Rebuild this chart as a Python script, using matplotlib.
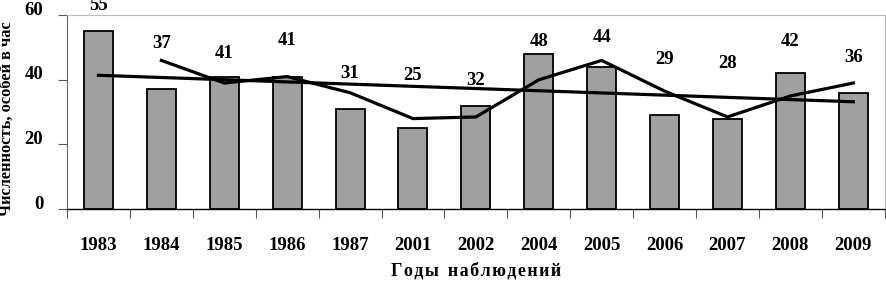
import matplotlib.pyplot as plt
import matplotlib.transforms as mtransforms
import numpy as np

plt.rcParams['font.family'] = ['Liberation Serif', 'DejaVu Serif']
plt.rcParams['font.weight'] = 'bold'

years = ['1983', '1984', '1985', '1986', '1987', '2001', '2002',
         '2004', '2005', '2006', '2007', '2008', '2009']
counts = [55, 37, 41, 41, 31, 25, 32, 48, 44, 29, 28, 42, 36]
# moving average (2 periods), starts at 1984
moving_avg = [46, 39, 41, 36, 28, 28.5, 40, 46, 36.5, 28.5, 35, 39]
# linear trend, value at first and last year
trend = [41.4, 33.2]

# where the value labels sit (data units), as in the original
label_y = [63.0, 51.3, 48.2, 52.3, 42.1, 41.4, 39.9, 51.7, 53.2, 46.4, 45.2, 52.0, 47.0]

fig = plt.figure(figsize=(8.86, 2.81), dpi=100)
ax = fig.add_axes([0.0756, 0.256, 0.923, 0.690])

x = np.arange(len(years))
ax.bar(x, counts, width=0.46, color='#a0a0a0', edgecolor='black', linewidth=1.3, zorder=2)
ax.plot(x[1:], moving_avg, color='black', linewidth=2.3, zorder=3)
ax.plot([x[0], x[-1]], trend, color='black', linewidth=2.3, zorder=3)

for xi, v, ly in zip(x, counts, label_y):
    ax.text(xi, ly, str(v), ha='center', va='center', fontsize=13.5,
            fontweight='bold', clip_on=False)

ax.set_xlim(-0.5, len(years) - 0.5)
ax.set_ylim(0, 60)
ax.set_yticks([0, 20, 40, 60])
ax.set_xticks(x)
ax.set_xticklabels(years)
ax.set_xticks(np.arange(-0.5, len(years)), minor=True)
ax.tick_params(axis='x', which='major', length=0, pad=20, labelsize=13.5)
ax.tick_params(axis='x', which='minor', length=6.5, width=0.8, color='#555555')
ax.tick_params(axis='y', length=6.5, width=0.8, color='#555555', pad=10.5, labelsize=13.5)

# y tick labels sit a little above their ticks in the original
shift = mtransforms.ScaledTranslation(0, 7 / 100, fig.dpi_scale_trans)
for lbl in ax.get_yticklabels():
    lbl.set_transform(lbl.get_transform() + shift)

ax.spines['left'].set_color('#666666')
ax.spines['bottom'].set_linewidth(1.0)
ax.spines['top'].set_color('#bbbbbb')
ax.spines['right'].set_color('#bbbbbb')

ax.set_ylabel('Численность, особей в час', fontsize=11.8, fontweight='bold')
ax.yaxis.set_label_coords(-0.064, 0.465)
ax.set_xlabel('Г о д ы   н а б л ю д е н и й'.replace('   ', '\u2002').replace(' ', '\u200a'),
              fontsize=13, fontweight='bold', labelpad=6)

fig.savefig('out.png', dpi=100)
